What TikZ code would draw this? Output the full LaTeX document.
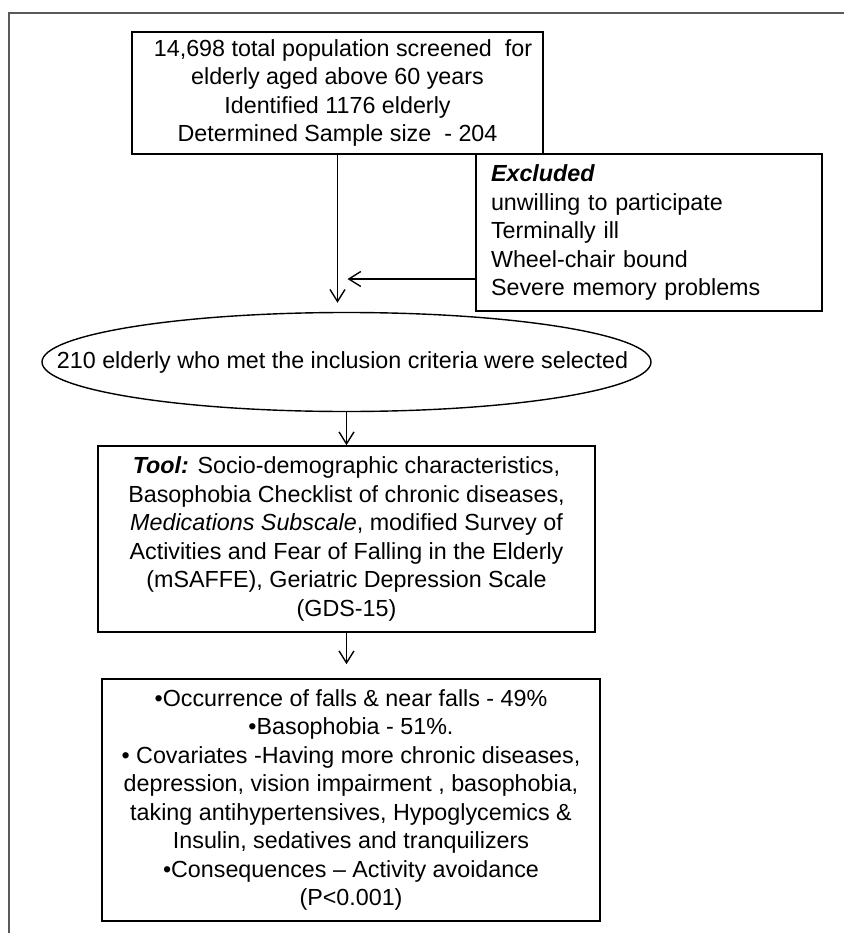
\documentclass[tikz,border=0pt]{standalone}
\usepackage{fontspec}
\setmainfont{Liberation Sans}
\usetikzlibrary{arrows.meta,shapes.geometric}

\tikzset{
  box/.style={draw, line width=1.6pt, inner sep=0pt, align=center},
  flow/.style={line width=1.4pt, -{Straight Barb[length=12pt,width=15pt]}},
}

\begin{document}
\begin{tikzpicture}[x=1pt, y=-1pt, font=\fontsize{23.3}{28.5}\selectfont]

    % Keep the page at the size of the figure
    \useasboundingbox (0,0) rectangle (844,933);

    % Frame round the figure (cut off on the right and at the bottom)
    \draw[line width=1.4pt, black!65] (9,933) -- (9,13) -- (844,13);

    % Screening box
    \node[box, minimum width=411pt, minimum height=122pt] (screen) at (337.5,93)
      {\hspace{11pt}14,698 total population screened~ for\\
       elderly aged above 60 years\\
       Identified 1176 elderly\\
       Determined Sample size~ - 204};

    % Excluded box on the right
    \node[box, align=left, text width=316pt, inner xsep=15pt, minimum height=157pt] (excl) at (649,232.5)
      {\textbf{\textit{Excluded}}\\
       unwilling to participate\\
       Terminally ill\\
       Wheel-chair bound\\
       Severe memory problems};

    % Selected elderly (the text is boxed to zero width so the ellipse keeps its size)
    \node[draw, ellipse, line width=1.4pt, minimum width=609pt, minimum height=99pt, inner sep=0pt] (sel) at (346.5,362)
      {\raisebox{-7pt}{\makebox[0pt]{\hspace{-8pt}210 elderly who met the inclusion criteria were selected}}};

    % Tool box
    \node[box, minimum width=497pt, minimum height=186pt] (tool) at (346.5,539)
      {\textbf{\textit{Tool:}} Socio-demographic characteristics,\\
       Basophobia Checklist of chronic diseases,\\
       \textit{Medications Subscale}, modified Survey of\\
       Activities and Fear of Falling in the Elderly\\
       (mSAFFE), Geriatric Depression Scale\\
       (GDS-15)};

    % Results box
    \node[box, minimum width=498pt, minimum height=242pt] (res) at (351,800)
      {•Occurrence of falls \& near falls - 49\%\\
       •Basophobia - 51\%.\\
       • Covariates -Having more chronic diseases,\\
       depression, vision impairment , basophobia,\\
       taking antihypertensives, Hypoglycemics \&\\
       Insulin, sedatives and tranquilizers\\
       •Consequences – Activity avoidance\\
       (P<0.001)};

    % Where the excluded arrow meets the main line
    \coordinate (join) at (337.5,279);

    % Arrows
    \draw[flow, shorten >=9pt] (screen.south) -- (screen.south |- sel.north);
    \draw[flow, shorten >=10pt] (excl.west |- join) -- (join);
    \draw[flow] (sel.south) -- (tool.north);
    \draw[flow, shorten >=14pt] (tool.south) -- (tool.south |- res.north);

\end{tikzpicture}
\end{document}
